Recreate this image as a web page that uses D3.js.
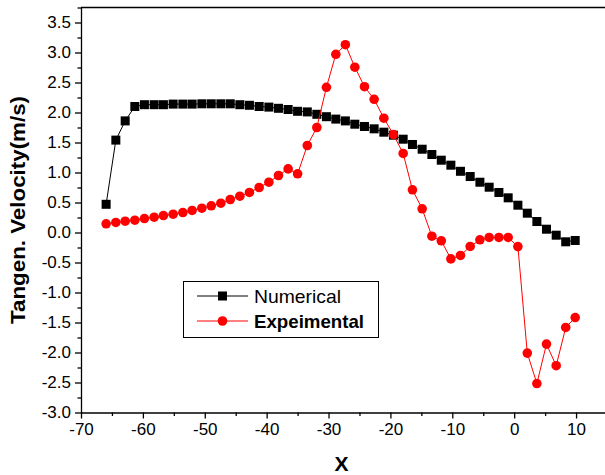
<!DOCTYPE html>
<html><head><meta charset="utf-8">
<script src="https://cdn.jsdelivr.net/npm/d3@7"></script>
<style>
html,body{margin:0;padding:0;background:#fff;}
svg{display:block;}
text{font-family:"Liberation Sans",Arial,sans-serif;}
</style></head>
<body><svg id="c" width="605" height="475"></svg>
<script>
const xValues = [-65.94,-64.37,-62.86,-61.30,-59.75,-58.18,-56.68,-55.11,-53.54,-52.04,
  -50.47,-48.95,-47.40,-45.88,-44.33,-42.78,-41.21,-39.64,-38.09,-36.53,
  -35.00,-33.43,-31.89,-30.34,-28.82,-27.28,-25.75,-24.19,-22.63,-21.06,
  -19.51,-17.94,-16.44,-14.87,-13.30,-11.78,-10.23,-8.68,-7.11,-5.54,
  -4.04,-2.47,-0.97,0.60,2.12,3.67,5.22,6.79,8.33,9.86];
const numerical = [0.47,1.54,1.86,2.10,2.13,2.13,2.13,2.14,2.14,2.14,
  2.145,2.145,2.145,2.145,2.13,2.12,2.10,2.09,2.07,2.05,
  2.02,2.01,1.97,1.93,1.89,1.86,1.805,1.767,1.728,1.672,
  1.622,1.555,1.467,1.388,1.30,1.205,1.122,1.02,0.933,0.838,
  0.755,0.667,0.578,0.455,0.322,0.183,0.055,-0.045,-0.155,-0.133];
const experimental = [0.145,0.167,0.188,0.205,0.233,0.255,0.283,0.305,0.333,0.367,
  0.405,0.445,0.488,0.55,0.605,0.667,0.75,0.838,0.95,1.06,
  0.978,1.45,1.75,2.42,2.97,3.13,2.755,2.43,2.22,1.905,
  1.633,1.317,0.712,0.395,-0.062,-0.138,-0.44,-0.383,-0.233,-0.122,
  -0.083,-0.083,-0.083,-0.235,-2.01,-2.517,-1.86,-2.22,-1.583,-1.417];
const xTicks = [-70,-60,-50,-40,-30,-20,-10,0,10];
const xMinor = [-65,-55,-45,-35,-25,-15,-5,5,15];
const yTicks = [-3.0,-2.5,-2.0,-1.5,-1.0,-0.5,0.0,0.5,1.0,1.5,2.0,2.5,3.0,3.5];
const yMinor = [-2.75,-2.25,-1.75,-1.25,-0.75,-0.25,0.25,0.75,1.25,1.75,2.25,2.75,3.25,3.75];
const seriesNames = ["Numerical","Expeimental"];

const svg = d3.select("#c");
const x = d3.scaleLinear().domain([-70,15]).range([81,607]);
const y = d3.scaleLinear().domain([-3,3.75]).range([412.5,7.5]);

// frame top
svg.append("line").attr("x1",x(-70)).attr("x2",x(15)).attr("y1",y(3.75)).attr("y2",y(3.75))
  .attr("stroke","#000").attr("stroke-width",1.3);

const xAxis = svg.append("g").attr("transform",`translate(0,${y(-3)})`)
  .call(d3.axisBottom(x).tickValues(xTicks).tickSize(6).tickSizeOuter(0).tickPadding(4)
    .tickFormat(d=>String(d)));
svg.append("g").attr("transform",`translate(0,${y(-3)})`)
  .call(d3.axisBottom(x).tickValues(xMinor).tickSize(3.5).tickSizeOuter(0).tickFormat(""))
  .select(".domain").remove();
const yAxis = svg.append("g").attr("transform",`translate(${x(-70)},0)`)
  .call(d3.axisLeft(y).tickValues(yTicks).tickSize(6).tickSizeOuter(0).tickPadding(4)
    .tickFormat(d=>d.toFixed(1)));
svg.append("g").attr("transform",`translate(${x(-70)},0)`)
  .call(d3.axisLeft(y).tickValues(yMinor).tickSize(3.5).tickSizeOuter(0).tickFormat(""))
  .select(".domain").remove();
svg.selectAll(".domain,.tick line").attr("stroke","#000").attr("stroke-width",1.3);
xAxis.selectAll("text").attr("font-size","17px").attr("fill","#000").attr("font-family","Liberation Sans, Arial, sans-serif");
yAxis.selectAll("text").attr("font-size","17px").attr("fill","#000").attr("font-family","Liberation Sans, Arial, sans-serif");

// axis titles
svg.append("text").attr("x",341.5).attr("y",471).attr("text-anchor","middle")
  .attr("font-size","21px").attr("font-weight","bold").text("X");
svg.append("text").attr("transform",`translate(25,210) rotate(-90)`).attr("text-anchor","middle")
  .attr("font-size","19.5px").attr("font-weight","bold")
  .attr("textLength",228).attr("lengthAdjust","spacingAndGlyphs").text("Tangen. Velocity(m/s)");

const line = d3.line().x((d,i)=>x(xValues[i])).y(d=>y(d));
// numerical
svg.append("path").datum(numerical).attr("d",line).attr("fill","none").attr("stroke","#000").attr("stroke-width",1);
svg.append("g").selectAll("rect").data(numerical).join("rect")
  .attr("x",(d,i)=>x(xValues[i])-4.5).attr("y",d=>y(d)-4.5).attr("width",9).attr("height",9).attr("fill","#000");
// experimental
svg.append("path").datum(experimental).attr("d",line).attr("fill","none").attr("stroke","#ff0000").attr("stroke-width",1);
svg.append("g").selectAll("circle").data(experimental).join("circle")
  .attr("cx",(d,i)=>x(xValues[i])).attr("cy",d=>y(d)).attr("r",4.8).attr("fill","#ff0000");

// legend
const lg = svg.append("g");
lg.append("rect").attr("x",183.5).attr("y",281.5).attr("width",195).attr("height",56)
  .attr("fill","#fff").attr("stroke","#000").attr("stroke-width",1);
const rows = [{n:seriesNames[0],c:"#000",s:"sq",w:"normal",yy:296,tl:87},{n:seriesNames[1],c:"#ff0000",s:"ci",w:"bold",yy:321,tl:110}];
rows.forEach(r=>{
  lg.append("line").attr("x1",197).attr("x2",248).attr("y1",r.yy).attr("y2",r.yy).attr("stroke",r.c).attr("stroke-width",1);
  if(r.s==="sq") lg.append("rect").attr("x",222.5-4.5).attr("y",r.yy-4.5).attr("width",9).attr("height",9).attr("fill",r.c);
  else lg.append("circle").attr("cx",222.5).attr("cy",r.yy).attr("r",4.8).attr("fill",r.c);
  lg.append("text").attr("x",254).attr("y",r.yy+7).attr("font-size","19px").attr("font-weight",r.w)
    .attr("textLength",r.tl).attr("lengthAdjust","spacingAndGlyphs").text(r.n);
});
</script></body></html>
